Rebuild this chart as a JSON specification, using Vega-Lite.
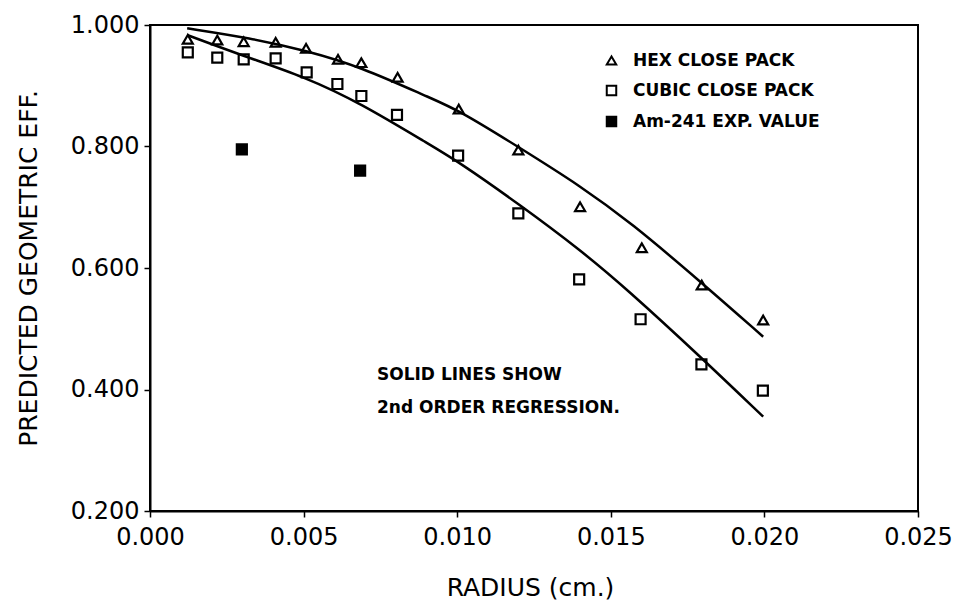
{
  "$schema": "https://vega.github.io/schema/vega-lite/v6.json",
  "width": 768,
  "height": 486,
  "autosize": {"type": "none"},
  "padding": {"left": 150, "top": 25, "right": 40, "bottom": 92},
  "background": "white",
  "config": {
    "view": {"stroke": "black", "strokeWidth": 2},
    "font": "DejaVu Sans",
    "axis": {
      "grid": false,
      "domainColor": "black",
      "domainWidth": 2,
      "tickColor": "black",
      "tickWidth": 1.5,
      "tickSize": 6,
      "labelFont": "DejaVu Sans",
      "labelFontSize": 24,
      "labelColor": "black",
      "titleFont": "DejaVu Sans",
      "titleFontSize": 25,
      "titleFontWeight": "normal",
      "titleColor": "black"
    },
    "legend": {
      "labelLimit": 400
    }
  },
  "datasets": {
    "points": [
      {"series": "HEX CLOSE PACK", "radius": 0.00123, "eff": 0.9765},
      {"series": "HEX CLOSE PACK", "radius": 0.00219, "eff": 0.9753},
      {"series": "HEX CLOSE PACK", "radius": 0.00305, "eff": 0.9725},
      {"series": "HEX CLOSE PACK", "radius": 0.00409, "eff": 0.9715},
      {"series": "HEX CLOSE PACK", "radius": 0.00508, "eff": 0.9617},
      {"series": "HEX CLOSE PACK", "radius": 0.00612, "eff": 0.9435},
      {"series": "HEX CLOSE PACK", "radius": 0.00688, "eff": 0.9380},
      {"series": "HEX CLOSE PACK", "radius": 0.00806, "eff": 0.9139},
      {"series": "HEX CLOSE PACK", "radius": 0.01005, "eff": 0.8617},
      {"series": "HEX CLOSE PACK", "radius": 0.01199, "eff": 0.7942},
      {"series": "HEX CLOSE PACK", "radius": 0.01400, "eff": 0.7009},
      {"series": "HEX CLOSE PACK", "radius": 0.01601, "eff": 0.6334},
      {"series": "HEX CLOSE PACK", "radius": 0.01796, "eff": 0.5720},
      {"series": "HEX CLOSE PACK", "radius": 0.01996, "eff": 0.5144},
      {"series": "CUBIC CLOSE PACK", "radius": 0.00123, "eff": 0.9551},
      {"series": "CUBIC CLOSE PACK", "radius": 0.00219, "eff": 0.9462},
      {"series": "CUBIC CLOSE PACK", "radius": 0.00305, "eff": 0.9435},
      {"series": "CUBIC CLOSE PACK", "radius": 0.00409, "eff": 0.9452},
      {"series": "CUBIC CLOSE PACK", "radius": 0.00510, "eff": 0.9221},
      {"series": "CUBIC CLOSE PACK", "radius": 0.00610, "eff": 0.9029},
      {"series": "CUBIC CLOSE PACK", "radius": 0.00688, "eff": 0.8831},
      {"series": "CUBIC CLOSE PACK", "radius": 0.00804, "eff": 0.8519},
      {"series": "CUBIC CLOSE PACK", "radius": 0.01003, "eff": 0.7849},
      {"series": "CUBIC CLOSE PACK", "radius": 0.01199, "eff": 0.6900},
      {"series": "CUBIC CLOSE PACK", "radius": 0.01397, "eff": 0.5814},
      {"series": "CUBIC CLOSE PACK", "radius": 0.01597, "eff": 0.5156},
      {"series": "CUBIC CLOSE PACK", "radius": 0.01795, "eff": 0.4415},
      {"series": "CUBIC CLOSE PACK", "radius": 0.01995, "eff": 0.3980},
      {"series": "Am-241 EXP. VALUE", "radius": 0.00299, "eff": 0.7954},
      {"series": "Am-241 EXP. VALUE", "radius": 0.00684, "eff": 0.7602}
    ],
    "fits": [
      {"fit": "hex", "radius": 0.00121, "eff": 0.9946},
      {"fit": "hex", "radius": 0.00326, "eff": 0.9786},
      {"fit": "hex", "radius": 0.00510, "eff": 0.9577},
      {"fit": "hex", "radius": 0.00684, "eff": 0.9314},
      {"fit": "hex", "radius": 0.00912, "eff": 0.8798},
      {"fit": "hex", "radius": 0.01004, "eff": 0.8601},
      {"fit": "hex", "radius": 0.01205, "eff": 0.7975},
      {"fit": "hex", "radius": 0.01401, "eff": 0.7350},
      {"fit": "hex", "radius": 0.01563, "eff": 0.6757},
      {"fit": "hex", "radius": 0.01801, "eff": 0.5737},
      {"fit": "hex", "radius": 0.01996, "eff": 0.4869},
      {"fit": "cubic", "radius": 0.00121, "eff": 0.9835},
      {"fit": "cubic", "radius": 0.00304, "eff": 0.9490},
      {"fit": "cubic", "radius": 0.00505, "eff": 0.9144},
      {"fit": "cubic", "radius": 0.00684, "eff": 0.8716},
      {"fit": "cubic", "radius": 0.00912, "eff": 0.8025},
      {"fit": "cubic", "radius": 0.01004, "eff": 0.7750},
      {"fit": "cubic", "radius": 0.01205, "eff": 0.7037},
      {"fit": "cubic", "radius": 0.01401, "eff": 0.6296},
      {"fit": "cubic", "radius": 0.01552, "eff": 0.5654},
      {"fit": "cubic", "radius": 0.01796, "eff": 0.4519},
      {"fit": "cubic", "radius": 0.01996, "eff": 0.3552}
    ],
    "notes": [
      {"radius": 0.00739, "eff": 0.4239, "text": "SOLID LINES SHOW"},
      {"radius": 0.00739, "eff": 0.3691, "text": "2nd ORDER REGRESSION."}
    ]
  },
  "encoding": {
    "x": {
      "field": "radius",
      "type": "quantitative",
      "scale": {"domain": [0, 0.025], "nice": false, "zero": false},
      "axis": {
        "values": [0, 0.005, 0.01, 0.015, 0.02, 0.025],
        "format": ".3f",
        "labelPadding": 8,
        "title": "RADIUS (cm.)",
        "titleX": 380,
        "titleY": 76,
        "titleAnchor": null,
        "titleAlign": "center",
        "titleBaseline": "middle",
        "labelFlush": false
      }
    },
    "y": {
      "field": "eff",
      "type": "quantitative",
      "scale": {"domain": [0.2, 1.0], "nice": false, "zero": false},
      "axis": {
        "values": [0.2, 0.4, 0.6, 0.8, 1.0],
        "format": ".3f",
        "labelPadding": 5,
        "labelFlush": false,
        "title": "PREDICTED GEOMETRIC EFF.",
        "titleAngle": -90,
        "titleX": -122,
        "titleY": 243,
        "titleAnchor": null,
        "titleAlign": "center",
        "titleBaseline": "middle"
      }
    }
  },
  "layer": [
    {
      "data": {"name": "fits"},
      "mark": {"type": "line", "color": "black", "strokeWidth": 2.5, "interpolate": "basis"},
      "encoding": {"detail": {"field": "fit", "type": "nominal"}}
    },
    {
      "data": {"name": "points"},
      "mark": {"type": "point", "filled": true, "stroke": "black", "strokeWidth": 2.2, "size": 100, "opacity": 1},
      "encoding": {
        "shape": {
          "field": "series",
          "type": "nominal",
          "scale": {
            "domain": ["HEX CLOSE PACK", "CUBIC CLOSE PACK", "Am-241 EXP. VALUE"],
            "range": ["triangle-up", "square", "square"]
          },
          "legend": {
            "title": null,
            "orient": "none",
            "legendX": 453,
            "legendY": 27,
            "padding": 0,
            "labelFont": "DejaVu Sans",
            "labelFontSize": 17,
            "labelFontWeight": "bold",
            "labelColor": "black",
            "labelOffset": 13,
            "labelLimit": 400,
            "rowPadding": 12,
            "symbolSize": 90,
            "symbolStrokeColor": "black",
            "symbolStrokeWidth": 2,
            "symbolOpacity": 1,
            "encode": {
              "symbols": {
                "update": {
                  "stroke": {"value": "black"},
                  "strokeWidth": {"value": 2},
                  "opacity": {"value": 1}
                }
              }
            }
          }
        },
        "fill": {
          "field": "series",
          "type": "nominal",
          "scale": {
            "domain": ["HEX CLOSE PACK", "CUBIC CLOSE PACK", "Am-241 EXP. VALUE"],
            "range": ["transparent", "transparent", "black"]
          },
          "legend": {
            "title": null,
            "orient": "none",
            "legendX": 453,
            "legendY": 27,
            "padding": 0,
            "labelFont": "DejaVu Sans",
            "labelFontSize": 17,
            "labelFontWeight": "bold",
            "labelColor": "black",
            "labelOffset": 13,
            "labelLimit": 400,
            "rowPadding": 12,
            "symbolSize": 90,
            "symbolStrokeColor": "black",
            "symbolStrokeWidth": 2,
            "symbolOpacity": 1,
            "encode": {
              "symbols": {
                "update": {
                  "stroke": {"value": "black"},
                  "strokeWidth": {"value": 2},
                  "opacity": {"value": 1}
                }
              }
            }
          }
        }
      }
    },
    {
      "data": {"name": "notes"},
      "mark": {"type": "text", "align": "left", "baseline": "middle", "font": "DejaVu Sans", "fontSize": 17, "fontWeight": "bold", "color": "black"},
      "encoding": {"text": {"field": "text", "type": "nominal"}}
    }
  ]
}
